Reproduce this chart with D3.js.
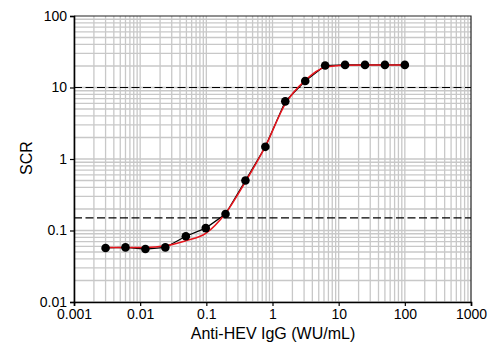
<!DOCTYPE html>
<html>
<head>
  <meta http-equiv="Content-Type" content="text/html;charset=utf-8">
  <title>SCR vs Anti-HEV IgG</title>
  <script src="https://d3js.org/d3.v7.min.js"></script>
  <style type="text/css">
    body { margin: 0; background: #fff; }
    text { font-family: "Liberation Sans", Arial, sans-serif; fill: #000; }
    .grid line { stroke: #c8c8c8; stroke-width: 1.3; }
    .cut { stroke: #000; stroke-width: 1.2; stroke-dasharray: 8,3.5; }
  </style>
</head>
<body>
  <svg width="488" height="347"></svg>
  <script type='text/javascript'>
    // twofold dilution series
    const conc = [0.003, 0.006, 0.012, 0.024, 0.049, 0.098, 0.195, 0.39, 0.78, 1.56, 3.125, 6.25, 12.5, 25, 50, 100];
    const scr = [0.057, 0.058, 0.055, 0.058, 0.083, 0.108, 0.17, 0.5, 1.48, 6.4, 12.3, 20.3, 20.7, 20.7, 20.7, 20.7];
    // red fitted curve
    const fitX = [0.003, 0.006, 0.012, 0.024, 0.049, 0.098, 0.195, 0.39, 0.78, 1.56, 3.125, 6.25, 12.5, 25, 50, 100];
    const fitY = [0.058, 0.058, 0.058, 0.061, 0.072, 0.091, 0.174, 0.48, 1.5, 5.9, 12.6, 19.2, 20.5, 20.7, 20.7, 20.7];
    const cutoffs = [10, 0.15];
    const xTicks = [0.001, 0.01, 0.1, 1, 10, 100, 1000];
    const yTicks = [0.01, 0.1, 1, 10, 100];

    const svg = d3.select('svg');
    const mLeft = 74, mRight = 471, mTop = 16, mBottom = 302;

    const x = d3.scaleLog().domain([0.001, 1000]).range([mLeft, mRight]);
    const y = d3.scaleLog().domain([0.01, 100]).range([mBottom, mTop]);

    // minor grid 1..9 per decade
    const gx = [], gy = [];
    for (let e = -3; e < 3; e++) for (let m = 1; m < 10; m++) gx.push(m * Math.pow(10, e));
    for (let e = -2; e < 2; e++) for (let m = 1; m < 10; m++) gy.push(m * Math.pow(10, e));

    const grid = svg.append('g').attr('class', 'grid');
    grid.selectAll('.vx').data(gx).enter().append('line')
        .attr('x1', d => x(d)).attr('x2', d => x(d))
        .attr('y1', mTop).attr('y2', mBottom);
    grid.selectAll('.hy').data(gy).enter().append('line')
        .attr('x1', mLeft).attr('x2', mRight)
        .attr('y1', d => y(d)).attr('y2', d => y(d));

    // frame top/right
    svg.append('path')
        .attr('d', `M${mLeft},${mTop}H${mRight}V${mBottom}`)
        .attr('fill', 'none').attr('stroke', '#222').attr('stroke-width', 1.2);

    svg.selectAll('.cut').data(cutoffs).enter().append('line')
        .attr('class', 'cut')
        .attr('x1', mLeft).attr('x2', mRight)
        .attr('y1', d => y(d)).attr('y2', d => y(d));

    // axes
    const xAxis = d3.axisBottom(x).tickValues(xTicks).tickSize(4).tickPadding(3)
        .tickFormat(d => String(d));
    const yAxis = d3.axisLeft(y).tickValues(yTicks).tickSize(4).tickPadding(3)
        .tickFormat(d => String(d));

    const gX = svg.append('g').attr('transform', `translate(0,${mBottom})`).call(xAxis);
    const gY = svg.append('g').attr('transform', `translate(${mLeft},0)`).call(yAxis);
    [gX, gY].forEach(g => {
      g.select('.domain').attr('stroke', '#000').attr('stroke-width', 1.6);
      g.selectAll('.tick line').attr('stroke', '#000').attr('stroke-width', 1.2);
      g.selectAll('.tick text').attr('font-size', 14).attr('font-family', '"Liberation Sans", Arial, sans-serif').attr('fill', '#000');
    });

    // data line + fit
    const pts = conc.map((c, i) => [c, scr[i]]);
    const fit = fitX.map((c, i) => [c, fitY[i]]);

    svg.append('path').datum(pts)
        .attr('fill', 'none').attr('stroke', '#000').attr('stroke-width', 1.2)
        .attr('d', d3.line().x(d => x(d[0])).y(d => y(d[1])));

    svg.append('path').datum(fit)
        .attr('fill', 'none').attr('stroke', '#e8141c').attr('stroke-width', 1.5)
        .attr('d', d3.line().curve(d3.curveMonotoneX).x(d => x(d[0])).y(d => y(d[1])));

    svg.selectAll('circle').data(pts).enter().append('circle')
        .attr('cx', d => x(d[0])).attr('cy', d => y(d[1])).attr('r', 4.3)
        .attr('fill', '#000');

    svg.append('text').attr('x', 273).attr('y', 339)
        .attr('text-anchor', 'middle').attr('font-size', 16)
        .text('Anti-HEV IgG (WU/mL)');
    svg.append('text').attr('transform', `translate(32,158) rotate(-90)`)
        .attr('text-anchor', 'middle').attr('font-size', 16)
        .text('SCR');
  </script>
</body>
</html>
